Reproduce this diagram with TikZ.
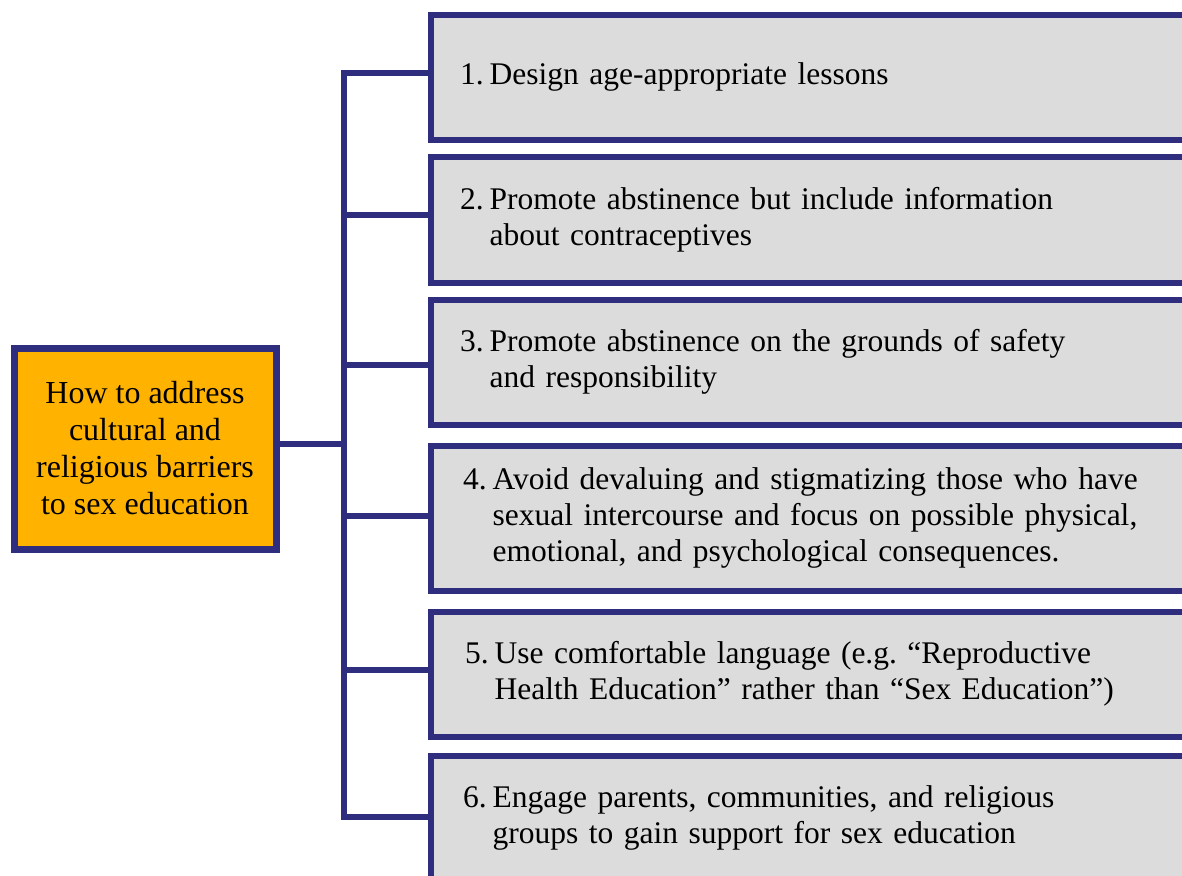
\documentclass[tikz,border=0pt]{standalone}
\usepackage{fontspec}
\setmainfont{Liberation Serif}
\frenchspacing
\definecolor{navy}{RGB}{46,45,126}
\definecolor{boxgray}{RGB}{220,220,220}
\definecolor{hubfill}{RGB}{255,178,0}
\newcommand{\itemtext}[2]{\begin{tabular}{@{}l@{\hspace{6pt}}l@{}}#1&#2\end{tabular}}
\tikzset{
  itembox/.style={draw=navy, line width=6pt, fill=boxgray, rectangle, anchor=west,
    text width=830pt, inner xsep=29pt, inner ysep=0pt, align=left,
    font=\fontsize{31.5}{36}\selectfont},
  hubbox/.style={draw=navy, line width=7pt, fill=hubfill, rectangle,
    minimum width=262pt, minimum height=201pt, align=center, inner sep=0pt,
    font=\fontsize{32}{37}\selectfont},
  link/.style={draw=navy, line width=6pt}
}
\begin{document}
\begin{tikzpicture}[x=1pt,y=-1pt]
\useasboundingbox (0,0) rectangle (1182,875);
\clip (0,0) rectangle (1182,875);
\fill[white] (0,0) rectangle (1182,875);

\node[hubbox] (hub) at (145,448.5) {How to address\\cultural and\\religious barriers\\to sex education};

\node[itembox, minimum height=125pt] (b1) at (428,77.5)
  {\itemtext{1.}{Design age-appropriate lessons}};
\node[itembox, minimum height=126pt] (b2) at (428,220)
  {\itemtext{2.}{Promote abstinence but include information\\ & about contraceptives}};
\node[itembox, minimum height=125pt] (b3) at (428,362.5)
  {\itemtext{3.}{Promote abstinence on the grounds of safety\\ & and responsibility}};
\node[itembox, minimum height=145pt] (b4) at (428,518.5)
  {\hspace{3pt}\itemtext{4.}{Avoid devaluing and stigmatizing those who have\\ & sexual intercourse and focus on possible physical,\\ & emotional, and psychological consequences.}};
\node[itembox, minimum height=125pt] (b5) at (428,674.5)
  {\hspace{5pt}\itemtext{5.}{Use comfortable language (e.g. “Reproductive\\ & Health Education” rather than “Sex Education”)}};
\node[itembox, minimum height=125pt] (b6) at (428,818.5)
  {\hspace{3pt}\itemtext{6.}{Engage parents, communities, and religious\\ & groups to gain support for sex education}};

\coordinate (t1) at (344,73);
\coordinate (t2) at (344,215);
\coordinate (t3) at (344,365);
\coordinate (t4) at (344,516);
\coordinate (t5) at (344,670);
\coordinate (t6) at (344,817);
\coordinate (j) at (344,444);

\draw[link, line cap=rect] (t1) -- (t6);
\draw[link] (hub.east |- j) -- (j);
\foreach \i in {1,...,6} {
  \draw[link] (t\i) -- (b\i.west |- t\i);
}
\end{tikzpicture}
\end{document}
